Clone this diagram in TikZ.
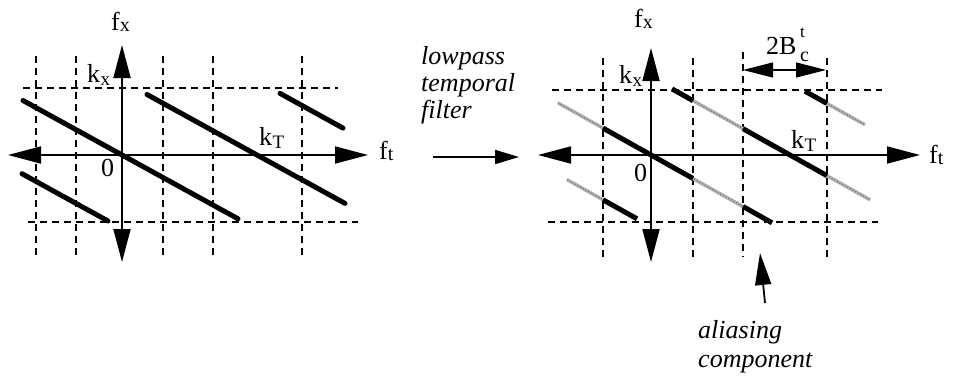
\documentclass[tikz,border=0pt]{standalone}
\usepackage{fontspec}
\setmainfont{Liberation Serif}[ItalicFont={Liberation Serif Italic},BoldFont={Liberation Serif Bold}]
\usetikzlibrary{arrows.meta}
\newcommand\sbx[2]{#1\kern0.5pt\raisebox{-3pt}{\fontsize{19}{19}\selectfont #2}}
\begin{document}
\begin{tikzpicture}[x=1pt,y=-1pt,
  axis/.style={line width=1.8pt,{Triangle[length=33pt,width=17pt]}-{Triangle[length=33pt,width=17pt]}},
  grid/.style={line width=1.5pt,dash pattern=on 7pt off 5pt},
  spec/.style={line width=5pt,line cap=round},
  faded/.style={line width=3.5pt,gray!60,postaction={draw,black!55,line width=1.2pt,dash pattern=on 1pt off 2pt}},
  lbl/.style={inner sep=0pt,anchor=base west,font=\fontsize{26}{26}\selectfont},
  note/.style={inner sep=0pt,anchor=base west,font=\fontsize{26}{26}\selectfont\itshape},
  pointer/.style={line width=1.8pt,-{Triangle[length=32pt,width=16pt]}}]
\useasboundingbox (0,0) rectangle (957,378);

% ---------- left panel ----------
\foreach \x in {36,76,163,213,302} \draw[grid] (\x,56) -- (\x,257);
\draw[grid] (23,88) -- (338,88);
\draw[grid] (28,222) -- (358,222);
\coordinate (LW) at (8,155); \coordinate (LE) at (368,155);
\coordinate (LN) at (122,45); \coordinate (LS) at (122,262);
\draw[axis] (LW) -- (LE);
\draw[axis] (LN) -- (LS);
\draw[spec] (23,100.5) -- (238,218.8);
\draw[spec] (147,94.5) -- (345,203.4);
\draw[spec] (280,93.4) -- (343,128.1);
\draw[spec] (22,173.7) -- (108,221);
\node[lbl] (lfx) at (111,30) {f\raisebox{-1pt}{\fontsize{20}{20}\selectfont x}};
\node[lbl] (lkx) at (87,82) {\sbx{k}{x}};
\node[lbl] (lkt) at (259,145) {\sbx{k}{T}};
\node[lbl] (l0) at (101,176) {0};
\node[lbl] (lft) at (379,159) {f\raisebox{-1pt}{\fontsize{20}{20}\selectfont t}};

% ---------- middle ----------
\node[note] (n1) at (421,64) {lowpass};
\node[note] (n2) at (421,91) {temporal};
\node[note] (n3) at (421,118) {filter};
\coordinate (MA) at (433,157); \coordinate (MB) at (519,157);
\draw[line width=1.8pt,-{Triangle[length=24pt,width=14pt]}] (MA) -- (MB);

% ---------- right panel ----------
\foreach \x in {603,693,827} \draw[grid] (\x,58) -- (\x,257);
\draw[grid] (743,52) -- (743,257);
\draw[grid] (552,90) -- (882,90);
\draw[grid] (548,222) -- (878,222);
\coordinate (RW) at (538,155); \coordinate (RE) at (920,155);
\coordinate (RN) at (651,48); \coordinate (RS) at (651,262);
\draw[axis] (RW) -- (RE);
\draw[axis] (RN) -- (RS);
% faded (filtered-out) parts
\draw[faded] (558,102.9) -- (772,222.8);
\draw[faded] (672,88.9) -- (870,199.8);
\draw[faded] (805,91.2) -- (865,124.8);
\draw[faded] (567,179.6) -- (637,218.8);
% passband parts
\draw[spec,line cap=butt] (603,128.1) -- (693,178.5);
\draw[spec,line cap=butt] (743,206.5) -- (772,222.8);
\draw[spec,line cap=butt] (672,88.9) -- (693,100.7);
\draw[spec,line cap=butt] (743,128.7) -- (827,175.7);
\draw[spec,line cap=butt] (805,91.2) -- (827,103.5);
\draw[spec,line cap=butt] (603,199.8) -- (637,218.8);
% bandwidth arrow
\coordinate (BA) at (743,70); \coordinate (BB) at (826,70);
\draw[line width=1.2pt,{Triangle[length=30pt,width=15pt]}-{Triangle[length=30pt,width=15pt]}] (BA) -- (BB);
\node[lbl] (b2) at (766,54) {2B};
\node[lbl,font=\fontsize{20}{20}\selectfont] (bc) at (800,61) {c};
\node[lbl,font=\fontsize{17}{17}\selectfont] (bt) at (800,37) {t};
\node[lbl] (rfx) at (634,27) {f\raisebox{-1pt}{\fontsize{20}{20}\selectfont x}};
\node[lbl] (rkx) at (619,83) {\sbx{k}{x}};
\node[lbl] (rkt) at (791,148) {\sbx{k}{T}};
\node[lbl] (r0) at (634,181) {0};
\node[lbl] (rft) at (929,163) {f\raisebox{-1pt}{\fontsize{20}{20}\selectfont t}};
% aliasing pointer
\node[note] (a1) at (698,338) {aliasing};
\node[note] (a2) at (698,367) {component};
\coordinate (AP) at (765,303); \coordinate (AT) at (760,253);
\draw[pointer] (AP) -- (AT);
\end{tikzpicture}
\end{document}
